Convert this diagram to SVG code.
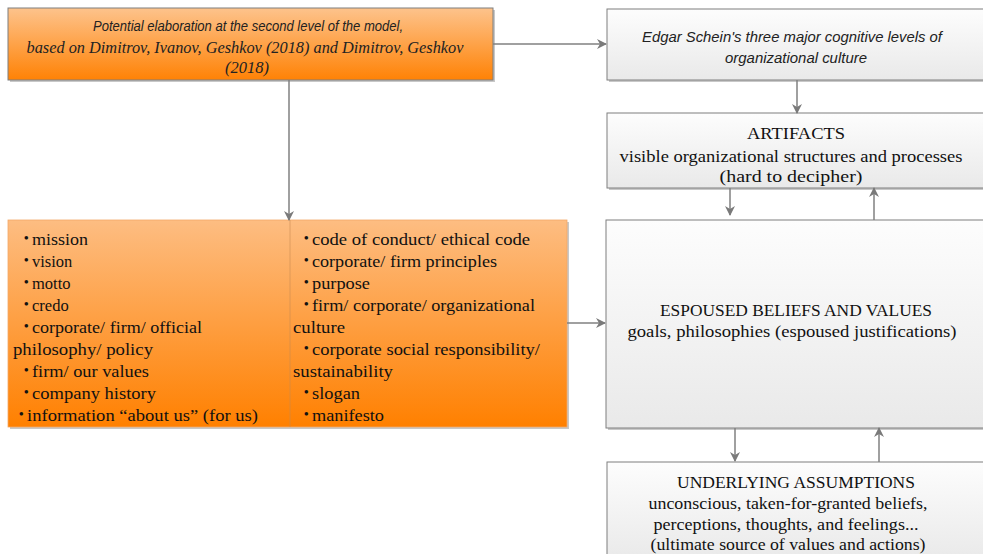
<svg xmlns="http://www.w3.org/2000/svg" width="983" height="554" viewBox="0 0 983 554">
<defs>
<linearGradient id="org" x1="0" y1="0" x2="0" y2="1"><stop offset="0" stop-color="#fdc38c"/><stop offset="1" stop-color="#ff8205"/></linearGradient>
<linearGradient id="org2" x1="0" y1="0" x2="0" y2="1"><stop offset="0" stop-color="#fdbd82"/><stop offset="1" stop-color="#ff8000"/></linearGradient>
<linearGradient id="gry" x1="0" y1="0" x2="0" y2="1"><stop offset="0" stop-color="#fdfdfd"/><stop offset="1" stop-color="#e9e9e9"/></linearGradient>
<marker id="ah" markerWidth="10" markerHeight="10" refX="9" refY="5" orient="auto" markerUnits="userSpaceOnUse"><path d="M0,0 L10,5 L0,10 L3,5 Z" fill="#7a7a7a"/></marker>
</defs>
<style>
.box{stroke:#7f7f7f;stroke-width:1}
.sh{fill:#c8c8c8}
.ln{stroke:#808080;stroke-width:1.5;fill:none;marker-end:url(#ah)}
.tn{font-family:"Liberation Serif",serif;font-size:16.5px;fill:#111}
.si{font-family:"Liberation Sans",sans-serif;font-style:italic;font-size:14px;fill:#222}
.ti{font-family:"Liberation Serif",serif;font-style:italic;font-size:16.5px;fill:#222}
.b{font-size:13px;font-weight:bold}
</style>
<rect width="983" height="554" fill="#fff"/>
<g id="top-orange">
<rect class="sh" x="10" y="10" width="485" height="72"/>
<rect class="box" x="8" y="8" width="485" height="72" fill="url(#org)"/>
<text class="si" x="248" y="31" text-anchor="middle" textLength="310" lengthAdjust="spacingAndGlyphs">Potential elaboration at the second level of the model,</text>
<text class="ti" x="245" y="53" text-anchor="middle" textLength="437" lengthAdjust="spacingAndGlyphs">based on Dimitrov, Ivanov, Geshkov (2018) and Dimitrov, Geshkov</text>
<text class="ti" x="247" y="73" text-anchor="middle">(2018)</text>
</g>
<g id="edgar">
<rect class="sh" x="609" y="11" width="380" height="71"/>
<rect class="box" x="607" y="9" width="380" height="71" fill="url(#gry)"/>
<text class="si" x="792" y="42" text-anchor="middle" textLength="300" lengthAdjust="spacingAndGlyphs">Edgar Schein's three major cognitive levels of</text>
<text class="si" x="796" y="63" text-anchor="middle" textLength="142" lengthAdjust="spacingAndGlyphs">organizational culture</text>
</g>
<g id="artifacts">
<rect class="sh" x="609" y="115" width="380" height="75"/>
<rect class="box" x="607" y="113" width="380" height="75" fill="url(#gry)"/>
<text class="tn" x="796" y="139" text-anchor="middle" textLength="98" lengthAdjust="spacingAndGlyphs">ARTIFACTS</text>
<text class="tn" x="791" y="162" text-anchor="middle" textLength="343" lengthAdjust="spacingAndGlyphs">visible organizational structures and processes</text>
<text class="tn" x="791" y="182" text-anchor="middle" textLength="143" lengthAdjust="spacingAndGlyphs">(hard to decipher)</text>
</g>
<g id="espoused">
<rect class="sh" x="608" y="222" width="380" height="208"/>
<rect class="box" x="606" y="220" width="380" height="208" fill="url(#gry)"/>
<text class="tn" x="796" y="316" text-anchor="middle" textLength="272" lengthAdjust="spacingAndGlyphs">ESPOUSED BELIEFS AND VALUES</text>
<text class="tn" x="792" y="337" text-anchor="middle" textLength="329" lengthAdjust="spacingAndGlyphs">goals, philosophies (espoused justifications)</text>
</g>
<g id="underlying">
<rect class="sh" x="609" y="464" width="380" height="100"/>
<rect class="box" x="607" y="462" width="380" height="100" fill="url(#gry)"/>
<text class="tn" x="796" y="488" text-anchor="middle" textLength="238" lengthAdjust="spacingAndGlyphs">UNDERLYING ASSUMPTIONS</text>
<text class="tn" x="788" y="509" text-anchor="middle" textLength="279" lengthAdjust="spacingAndGlyphs">unconscious, taken-for-granted beliefs,</text>
<text class="tn" x="786" y="530" text-anchor="middle" textLength="265" lengthAdjust="spacingAndGlyphs">perceptions, thoughts, and feelings...</text>
<text class="tn" x="788" y="550" text-anchor="middle" textLength="275" lengthAdjust="spacingAndGlyphs">(ultimate source of values and actions)</text>
</g>
<g id="list">
<rect class="sh" x="10" y="222" width="559" height="207"/>
<rect x="8" y="220" width="559" height="207" fill="url(#org2)" stroke="#f3a868" stroke-width="0.8"/>
<line x1="290" y1="220" x2="290" y2="427" stroke="#c88a50" stroke-width="0.8" opacity="0.7"/>
<text class="tn" x="24" y="245"><tspan class="b" dy="-3">•</tspan><tspan x="32" dy="3" textLength="56" lengthAdjust="spacingAndGlyphs">mission</tspan></text>
<text class="tn" x="24" y="267"><tspan class="b" dy="-3">•</tspan><tspan x="32" dy="3">vision</tspan></text>
<text class="tn" x="24" y="289"><tspan class="b" dy="-3">•</tspan><tspan x="32" dy="3">motto</tspan></text>
<text class="tn" x="24" y="311"><tspan class="b" dy="-3">•</tspan><tspan x="32" dy="3">credo</tspan></text>
<text class="tn" x="24" y="333"><tspan class="b" dy="-3">•</tspan><tspan x="32" dy="3" textLength="170" lengthAdjust="spacingAndGlyphs">corporate/ firm/ official</tspan></text>
<text class="tn" x="13" y="355" textLength="140" lengthAdjust="spacingAndGlyphs">philosophy/ policy</text>
<text class="tn" x="24" y="377"><tspan class="b" dy="-3">•</tspan><tspan x="32" dy="3" textLength="117" lengthAdjust="spacingAndGlyphs">firm/ our values</tspan></text>
<text class="tn" x="24" y="399"><tspan class="b" dy="-3">•</tspan><tspan x="32" dy="3" textLength="124" lengthAdjust="spacingAndGlyphs">company history</tspan></text>
<text class="tn" x="19" y="421"><tspan class="b" dy="-3">•</tspan><tspan x="27" dy="3" textLength="231" lengthAdjust="spacingAndGlyphs">information “about us” (for us)</tspan></text>
<text class="tn" x="304" y="245"><tspan class="b" dy="-3">•</tspan><tspan x="312" dy="3" textLength="218" lengthAdjust="spacingAndGlyphs">code of conduct/ ethical code</tspan></text>
<text class="tn" x="304" y="267"><tspan class="b" dy="-3">•</tspan><tspan x="312" dy="3" textLength="185" lengthAdjust="spacingAndGlyphs">corporate/ firm principles</tspan></text>
<text class="tn" x="304" y="289"><tspan class="b" dy="-3">•</tspan><tspan x="312" dy="3" textLength="58" lengthAdjust="spacingAndGlyphs">purpose</tspan></text>
<text class="tn" x="304" y="311"><tspan class="b" dy="-3">•</tspan><tspan x="312" dy="3" textLength="223" lengthAdjust="spacingAndGlyphs">firm/ corporate/ organizational</tspan></text>
<text class="tn" x="293" y="333" textLength="52" lengthAdjust="spacingAndGlyphs">culture</text>
<text class="tn" x="304" y="355"><tspan class="b" dy="-3">•</tspan><tspan x="312" dy="3" textLength="228" lengthAdjust="spacingAndGlyphs">corporate social responsibility/</tspan></text>
<text class="tn" x="293" y="377" textLength="100" lengthAdjust="spacingAndGlyphs">sustainability</text>
<text class="tn" x="304" y="399"><tspan class="b" dy="-3">•</tspan><tspan x="312" dy="3" textLength="48" lengthAdjust="spacingAndGlyphs">slogan</tspan></text>
<text class="tn" x="304" y="421"><tspan class="b" dy="-3">•</tspan><tspan x="312" dy="3" textLength="72" lengthAdjust="spacingAndGlyphs">manifesto</tspan></text>
</g>
<g id="connectors">
<line class="ln" x1="493" y1="44" x2="606" y2="44"/>
<line class="ln" x1="289" y1="80" x2="289" y2="220"/>
<line class="ln" x1="567" y1="323" x2="605" y2="323"/>
<line class="ln" x1="797" y1="80" x2="797" y2="113"/>
<line class="ln" x1="730" y1="188" x2="730" y2="215"/>
<line class="ln" x1="874" y1="220" x2="874" y2="188"/>
<line class="ln" x1="735" y1="428" x2="735" y2="461"/>
<line class="ln" x1="879" y1="462" x2="879" y2="428"/>
</g>
</svg>
